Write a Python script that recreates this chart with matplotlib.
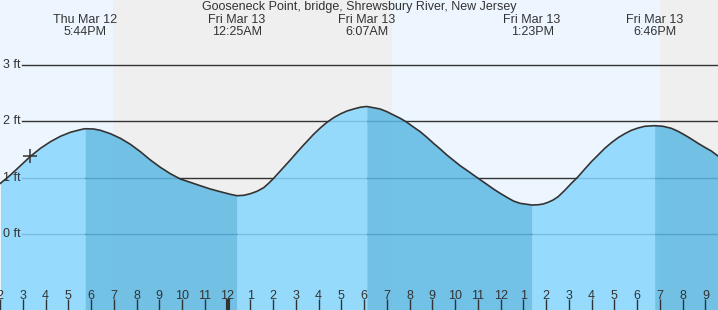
import matplotlib
matplotlib.use("Agg")
import matplotlib.pyplot as plt
import matplotlib.transforms as mtransforms
import numpy as np

plt.rcParams['font.family'] = ['Liberation Sans', 'DejaVu Sans']

title = "Gooseneck Point, bridge, Shrewsbury River, New Jersey"

# hours since midnight Thu Mar 12, water level in ft
times = [14.021, 14.460, 14.899, 15.339, 15.778, 16.217, 16.656, 17.095, 17.534, 17.733,
         18.119, 18.413, 18.852, 19.291, 19.730, 20.169, 20.609, 21.048, 21.487, 21.926,
         22.365, 22.804, 23.243, 23.683, 24.122, 24.417, 24.706, 25.000, 25.294, 25.586,
         25.805, 26.024, 26.318, 26.757, 27.051, 27.341, 27.781, 28.074, 28.369, 28.659,
         28.953, 29.247, 29.537, 29.831, 30.117, 30.416, 30.710, 31.004, 31.294, 31.588,
         31.882, 32.172, 32.466, 32.761, 33.050, 33.344, 33.639, 33.929, 34.223, 34.517,
         34.807, 35.101, 35.395, 35.685, 35.980, 36.274, 36.564, 36.858, 37.152, 37.383,
         37.650, 37.869, 38.088, 38.307, 38.527, 38.821, 39.112, 39.406, 39.700, 39.990,
         40.284, 40.578, 40.868, 41.162, 41.456, 41.747, 42.041, 42.335, 42.767, 43.139,
         43.504, 43.797, 44.091, 44.382, 44.676, 44.970, 45.260, 45.553]
heights = [0.904, 1.051, 1.216, 1.382, 1.524, 1.641, 1.737, 1.808, 1.854, 1.871,
           1.866, 1.843, 1.783, 1.701, 1.595, 1.464, 1.317, 1.187, 1.074, 0.980,
           0.921, 0.861, 0.803, 0.755, 0.709, 0.684, 0.691, 0.719, 0.762, 0.826,
           0.904, 0.992, 1.122, 1.317, 1.453, 1.582, 1.772, 1.884, 1.985, 2.066,
           2.132, 2.185, 2.220, 2.251, 2.265, 2.243, 2.220, 2.173, 2.114, 2.056,
           1.985, 1.901, 1.818, 1.719, 1.613, 1.512, 1.405, 1.311, 1.216, 1.134,
           1.051, 0.968, 0.886, 0.803, 0.727, 0.656, 0.590, 0.549, 0.532, 0.519,
           0.524, 0.537, 0.567, 0.608, 0.666, 0.780, 0.904, 1.021, 1.157, 1.287,
           1.405, 1.524, 1.623, 1.712, 1.783, 1.843, 1.884, 1.914, 1.925, 1.914,
           1.878, 1.825, 1.760, 1.689, 1.613, 1.542, 1.476, 1.388]

event_times = [17.733, 24.417, 30.117, 37.383, 42.767]
event_dates = ["Thu Mar 12", "Fri Mar 13", "Fri Mar 13", "Fri Mar 13", "Fri Mar 13"]
event_labels = ["5:44PM", "12:25AM", "6:07AM", "1:23PM", "6:46PM"]
event_kind = ["high", "low", "high", "low", "high"]

# day / night boundaries (hours)
sun_changes = [14.021, 18.98, 31.21, 43.005, 45.553]
sun_state = ["day", "night", "day", "night"]

now_time = 15.34
now_height = 1.393

grid_levels = [0, 1, 2, 3]
grid_labels = ["0 ft", "1 ft", "2 ft", "3 ft"]

tick_hours = list(range(14, 46))
tick_labels = [str((h - 1) % 12 + 1) for h in tick_hours]

xlim = (14.021, 45.553)
ylim = (-1.341, 4.152)

day_bg = "#edf6ff"
night_bg = "#efefef"
rise_col = "#87d7fe"
fall_col = "#5cb8e3"
dark = "#333333"

fig = plt.figure(figsize=(7.18, 3.10), dpi=100)
ax = fig.add_axes([0, 0, 1, 1])
ax.set_xlim(*xlim)
ax.set_ylim(*ylim)
for s in ax.spines.values():
    s.set_visible(False)

for i, st in enumerate(sun_state):
    ax.axvspan(sun_changes[i], sun_changes[i + 1],
               color=day_bg if st == "day" else night_bg, lw=0, zorder=0)

for lv in grid_levels:
    ax.axhline(lv, xmin=22 / 718, xmax=1, color=dark, lw=1.0, zorder=1)

t = np.array(times)
h = np.array(heights)
bounds = [times[0]] + event_times + [times[-1]]
for i in range(len(bounds) - 1):
    m = (t >= bounds[i]) & (t <= bounds[i + 1])
    rising = (i < len(event_kind) and event_kind[i] == "high")
    ax.fill_between(t[m], h[m], ylim[0], color=rise_col if rising else fall_col,
                    alpha=0.85, lw=0, zorder=2)

ax.plot(t, h, color=dark, lw=1.2, zorder=3, solid_joinstyle='round')
ax.plot([now_time], [now_height], marker='+', ms=10, mew=1.1, color=dark, zorder=4)

ytr = mtransforms.blended_transform_factory(ax.transAxes, ax.transData)
for lv, lb in zip(grid_levels, grid_labels):
    ax.text(3 / 718, lv, lb, transform=ytr, ha='left', va='center',
            fontsize=9, color=dark, zorder=5)

xtr = mtransforms.blended_transform_factory(ax.transData, ax.transAxes)
ax.text(0.5, 1 - 7 / 310, title, transform=ax.transAxes, ha='center', va='center',
        fontsize=9, color=dark, zorder=5)
for et, ed, el in zip(event_times, event_dates, event_labels):
    ax.text(et, 1 - 20 / 310, ed, transform=xtr, ha='center', va='center',
            fontsize=9, color=dark, zorder=5)
    ax.text(et, 1 - 32 / 310, el, transform=xtr, ha='center', va='center',
            fontsize=9, color=dark, zorder=5)

ax.set_yticks([])
ax.set_xticks(tick_hours)
ax.set_xticklabels(tick_labels)
ax.tick_params(axis='x', direction='in', length=8, width=1, color=dark,
               labelcolor=dark, labelsize=9, pad=-14.5)
for tk, hr in zip(ax.xaxis.get_major_ticks(), tick_hours):
    tk.tick1line.set_zorder(6)
    if hr % 24 == 0:
        tk.tick1line.set_markeredgewidth(3)
ax.set_axisbelow(False)

fig.savefig("out.png", dpi=100)
